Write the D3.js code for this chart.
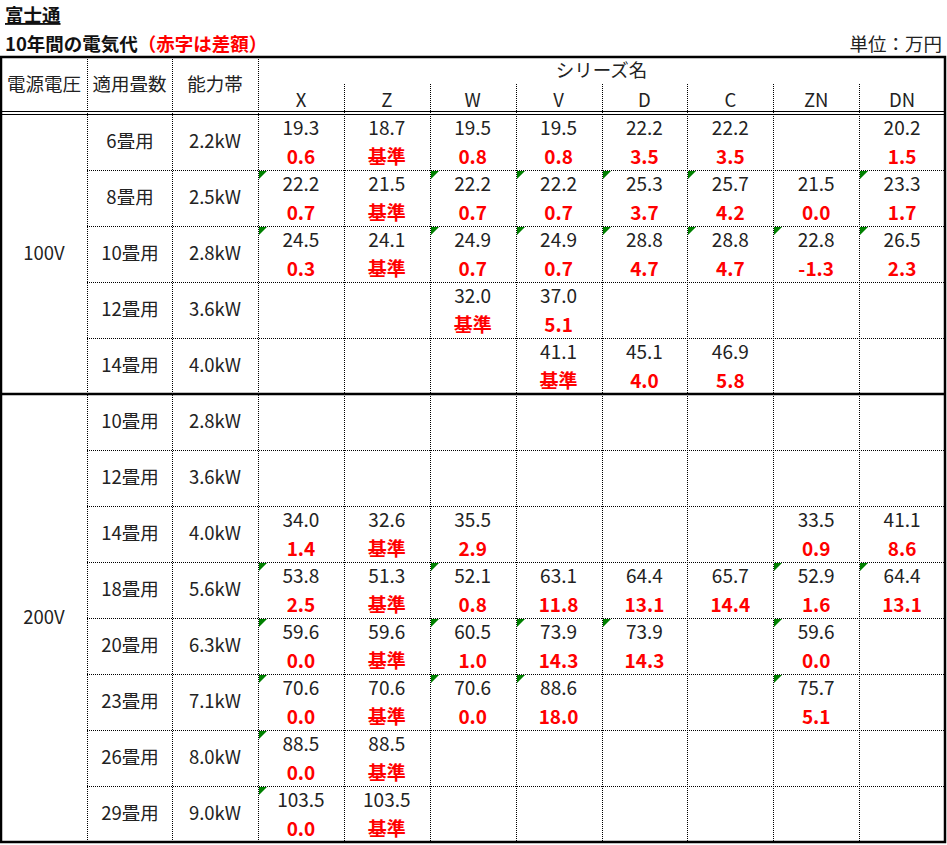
<!DOCTYPE html>
<html>
<head>
<meta charset="UTF-8">
<script src="https://cdn.jsdelivr.net/npm/d3@7"></script>
<style>
  body { margin: 0; background: #fff; }
  svg { display: block; font-family: "Noto Sans CJK JP", "Noto Sans", sans-serif; }
  .txt { fill: #222; font-size: 18.5px; }
  .num { fill: #222; font-size: 19px; }
  .red { fill: #ff0000; font-size: 19px; font-weight: bold; }
</style>
</head>
<body>
<svg id="chart" width="947" height="845"></svg>
<script>
// シリーズ名
const series = ['X', 'Z', 'W', 'V', 'D', 'C', 'ZN', 'DN'];

// 電源電圧ごとの行数
const voltages = ['100V', '200V'];
const groupSizes = [5, 8];

const tatami = ['6畳用', '8畳用', '10畳用', '12畳用', '14畳用',
  '10畳用', '12畳用', '14畳用', '18畳用', '20畳用', '23畳用', '26畳用', '29畳用'];
const capacity = ['2.2kW', '2.5kW', '2.8kW', '3.6kW', '4.0kW',
  '2.8kW', '3.6kW', '4.0kW', '5.6kW', '6.3kW', '7.1kW', '8.0kW', '9.0kW'];

// 10年間の電気代（万円）
const cost = [
  [19.3, 18.7, 19.5, 19.5, 22.2, 22.2, null, 20.2],
  [22.2, 21.5, 22.2, 22.2, 25.3, 25.7, 21.5, 23.3],
  [24.5, 24.1, 24.9, 24.9, 28.8, 28.8, 22.8, 26.5],
  [null, null, 32.0, 37.0, null, null, null, null],
  [null, null, null, 41.1, 45.1, 46.9, null, null],
  [null, null, null, null, null, null, null, null],
  [null, null, null, null, null, null, null, null],
  [34.0, 32.6, 35.5, null, null, null, 33.5, 41.1],
  [53.8, 51.3, 52.1, 63.1, 64.4, 65.7, 52.9, 64.4],
  [59.6, 59.6, 60.5, 73.9, 73.9, null, 59.6, null],
  [70.6, 70.6, 70.6, 88.6, null, null, 75.7, null],
  [88.5, 88.5, null, null, null, null, null, null],
  [103.5, 103.5, null, null, null, null, null, null]
];

// 差額（赤字）
const diff = [
  [0.6, '基準', 0.8, 0.8, 3.5, 3.5, null, 1.5],
  [0.7, '基準', 0.7, 0.7, 3.7, 4.2, 0.0, 1.7],
  [0.3, '基準', 0.7, 0.7, 4.7, 4.7, -1.3, 2.3],
  [null, null, '基準', 5.1, null, null, null, null],
  [null, null, null, '基準', 4.0, 5.8, null, null],
  [null, null, null, null, null, null, null, null],
  [null, null, null, null, null, null, null, null],
  [1.4, '基準', 2.9, null, null, null, 0.9, 8.6],
  [2.5, '基準', 0.8, 11.8, 13.1, 14.4, 1.6, 13.1],
  [0.0, '基準', 1.0, 14.3, 14.3, null, 0.0, null],
  [0.0, '基準', 0.0, 18.0, null, null, 5.1, null],
  [0.0, '基準', null, null, null, null, null, null],
  [0.0, '基準', null, null, null, null, null, null]
];

// 緑の三角（エラーインジケータ）
const flags = [
  [0, 0, 0, 0, 0, 0, 0, 0],
  [1, 0, 1, 1, 1, 1, 0, 1],
  [1, 0, 1, 1, 1, 1, 1, 1],
  [0, 0, 0, 0, 0, 0, 0, 0],
  [0, 0, 0, 0, 0, 0, 0, 0],
  [0, 0, 0, 0, 0, 0, 0, 0],
  [0, 0, 0, 0, 0, 0, 0, 0],
  [0, 0, 0, 0, 0, 0, 0, 0],
  [1, 0, 1, 0, 0, 0, 1, 1],
  [1, 0, 1, 1, 1, 0, 1, 0],
  [1, 0, 1, 1, 0, 0, 1, 0],
  [1, 0, 0, 0, 0, 0, 0, 0],
  [1, 0, 0, 0, 0, 0, 0, 0]
];

const svg = d3.select('#chart');

const L = 1, R = 945, TOP = 57, HEAD = 114, BOT = 842;
const colEdges = [L, 87, 172, 258];

const x = d3.scaleBand().domain(series).range([258, R]);
const y = d3.scaleBand().domain(d3.range(tatami.length)).range([HEAD, BOT]);

const fmt = v => typeof v === 'number' ? v.toFixed(1) : v;

// タイトル
svg.append('text').attr('x', 5).attr('y', 22)
  .attr('font-size', 18.5).attr('font-weight', 'bold').attr('fill', '#111')
  .attr('text-decoration', 'underline').text('富士通');
const t = svg.append('text').attr('x', 5).attr('y', 51)
  .attr('font-size', 18.5).attr('font-weight', 'bold').attr('fill', '#111');
t.append('tspan').text('10年間の電気代');
t.append('tspan').attr('fill', '#ff0000').text('（赤字は差額）');
svg.append('text').attr('x', 942).attr('y', 51).attr('text-anchor', 'end')
  .attr('class', 'txt').text('単位：万円');

// 罫線
const g = svg.append('g').attr('fill', 'none');
const dotted = (x1, y1, x2, y2) => g.append('line')
  .attr('x1', x1).attr('y1', y1).attr('x2', x2).attr('y2', y2)
  .attr('stroke', '#000').attr('stroke-width', 1).attr('stroke-dasharray', '1,1');

[87.5, 172.5, 258.5].forEach(cx => dotted(cx, TOP, cx, BOT));
series.slice(1).forEach(s => {
  const cx = Math.round(x(s)) + 0.5;
  dotted(cx, 84, cx, BOT);
});
let start = 0;
groupSizes.forEach(n => {
  for (let i = start + 1; i < start + n; i++) {
    const cy = Math.round(y(i)) + 0.5;
    dotted(87, cy, R, cy);
  }
  start += n;
});

// 二重線
[111.5, 114.5].forEach(cy => g.append('line')
  .attr('x1', L).attr('x2', R).attr('y1', cy).attr('y2', cy)
  .attr('stroke', '#000').attr('stroke-width', 1));

// 100V / 200V の境界
g.append('line').attr('x1', L).attr('x2', R)
  .attr('y1', y(groupSizes[0])).attr('y2', y(groupSizes[0]))
  .attr('stroke', '#000').attr('stroke-width', 2.5);

// 外枠
g.append('rect').attr('x', L).attr('y', TOP).attr('width', R - L).attr('height', BOT - TOP)
  .attr('stroke', '#000').attr('stroke-width', 2.5);

// ヘッダー
const head = svg.append('g').attr('class', 'txt').attr('text-anchor', 'middle');
['電源電圧', '適用畳数', '能力帯'].forEach((h, i) => {
  head.append('text').attr('x', (colEdges[i] + colEdges[i + 1]) / 2).attr('y', 85)
    .attr('dy', '0.35em').text(h);
});
head.append('text').attr('x', (258 + R) / 2).attr('y', 71).attr('dy', '0.35em').text('シリーズ名');
head.selectAll('.ser').data(series).join('text')
  .attr('x', d => x(d) + x.bandwidth() / 2).attr('y', 101).attr('dy', '0.35em').text(d => d);

// 電源電圧
start = 0;
voltages.forEach((v, i) => {
  const y0 = y(start), y1 = y(start + groupSizes[i] - 1) + y.bandwidth();
  svg.append('text').attr('class', 'txt').attr('text-anchor', 'middle')
    .attr('x', 44).attr('y', (y0 + y1) / 2).attr('dy', '0.35em').text(v);
  start += groupSizes[i];
});

// 行ラベル
const rows = svg.append('g').selectAll('g').data(tatami).join('g')
  .attr('transform', (d, i) => `translate(0,${y(i)})`);
rows.append('text').attr('class', 'txt').attr('text-anchor', 'middle')
  .attr('x', 130).attr('y', y.bandwidth() / 2).attr('dy', '0.35em').text(d => d);
rows.append('text').attr('class', 'txt').attr('text-anchor', 'middle')
  .attr('x', 215).attr('y', y.bandwidth() / 2).attr('dy', '0.35em').text((d, i) => capacity[i]);

// セル
rows.each(function (d, i) {
  const row = d3.select(this);
  series.forEach((s, j) => {
    const cx = x(s) + x.bandwidth() / 2;
    if (flags[i][j]) {
      const x0 = Math.round(x(s)) + 1;
      row.append('path').attr('fill', '#008000')
        .attr('d', `M${x0},1L${x0 + 8},1L${x0},9Z`);
    }
    if (cost[i][j] != null) {
      row.append('text').attr('class', 'num').attr('text-anchor', 'middle')
        .attr('x', cx).attr('y', 14).attr('dy', '0.35em').text(fmt(cost[i][j]));
    }
    if (diff[i][j] != null) {
      row.append('text').attr('class', 'red').attr('text-anchor', 'middle')
        .attr('x', cx).attr('y', 43).attr('dy', '0.35em').text(fmt(diff[i][j]));
    }
  });
});
</script>
</body>
</html>
